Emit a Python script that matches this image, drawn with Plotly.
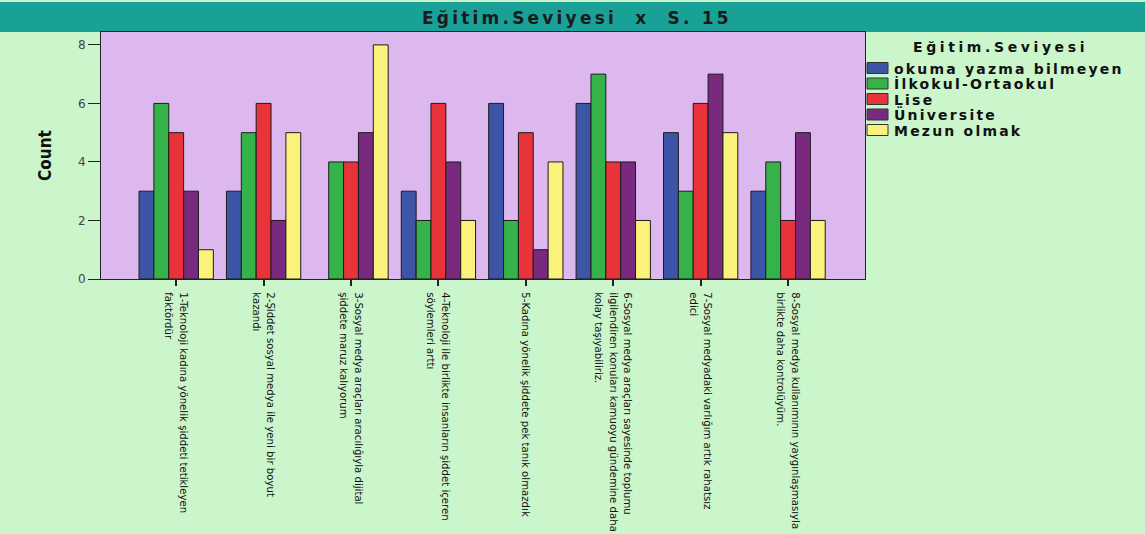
import plotly.graph_objects as go

categories = [
    "1-Teknoloji kadına yönelik şiddeti tetikleyen<br>faktördür",
    "2-Şiddet sosyal medya ile yeni bir boyut<br>kazandı",
    "3-Sosyal medya araçları aracılığıyla dijital<br>şiddete maruz kalıyorum",
    "4-Teknoloji ile birlikte insanların şiddet içeren<br>söylemleri arttı",
    "5-Kadına yönelik şiddete pek tanık olmazdık",
    "6-Sosyal medya araçları sayesinde toplumu<br>ilgilendiren konuları kamuoyu gündemine daha<br>kolay taşıyabiliriz.",
    "7-Sosyal medyadaki varlığım artık rahatsız<br>edici",
    "8-Sosyal medya kullanımının yaygınlaşmasıyla<br>birlikte daha kontrolüyüm.",
]

series_names = ["okuma yazma bilmeyen", "İlkokul-Ortaokul", "Lise", "Üniversite", "Mezun olmak"]
okuma = [3, 3, None, 3, 6, 6, 5, 3]
ilkokul = [6, 5, 4, 2, 2, 7, 3, 4]
lise = [5, 6, 4, 6, 5, 4, 6, 2]
universite = [3, 2, 5, 4, 1, 4, 7, 5]
mezun = [1, 5, 8, 2, 4, 2, 5, 2]
series_values = [okuma, ilkokul, lise, universite, mezun]
colors = ["#3d55a6", "#35b24a", "#e8333a", "#7a2a7e", "#fbf27c"]
legend_title = "Eğitim.Seviyesi"
chart_title = "Eğitim.Seviyesi\u00a0\u00a0x\u00a0\u00a0S.\u00a015"

W, H = 1145, 534
ML, MR, MT, MB = 101, 280, 32, 255
PW, PH = W - ML - MR, H - MT - MB


def px_x(x):
    return (x - ML) / PW


def px_y(y):
    return 1 - (y - MT) / PH


fig = go.Figure()
for name, vals, col in zip(series_names, series_values, colors):
    fig.add_trace(go.Bar(
        x=categories, y=vals, name=name, showlegend=False,
        marker=dict(color=col, line=dict(color="#1b1b1b", width=1)),
    ))

wide = "DejaVu Sans, Verdana, sans-serif"
shapes = [
    dict(type="rect", xref="paper", yref="paper",
         x0=px_x(0), x1=px_x(W), y0=px_y(32), y1=px_y(2),
         fillcolor="#19a198", line=dict(width=0), layer="below"),
]
annotations = [
    dict(text=f'<span style="letter-spacing:3.2px">{chart_title}</span>',
         xref="paper", yref="paper", x=px_x(W / 2 + 4), y=px_y(18),
         xanchor="center", yanchor="middle", showarrow=False,
         font=dict(family=wide, size=17, color="#1a1a1a", weight="bold")),
    dict(text=f'<span style="letter-spacing:3.6px">{legend_title}</span>',
         xref="paper", yref="paper", x=px_x(1000), y=px_y(47),
         xanchor="center", yanchor="middle", showarrow=False,
         font=dict(family=wide, size=14, color="#111111", weight="bold")),
]
row0, row_step = 68, 15.5
for i, (name, col) in enumerate(zip(series_names, colors)):
    cy = row0 + i * row_step
    shapes.append(dict(type="rect", xref="paper", yref="paper",
                       x0=px_x(867), x1=px_x(888), y0=px_y(cy + 5.5), y1=px_y(cy - 5.5),
                       fillcolor=col, line=dict(color="#333333", width=1)))
    annotations.append(dict(text=f'<span style="letter-spacing:2.2px">{name}</span>',
                            xref="paper", yref="paper", x=px_x(892), y=px_y(cy + 0.5),
                            xanchor="left", yanchor="middle", showarrow=False,
                            font=dict(family=wide, size=14, color="#111111", weight="bold")))

fig.update_layout(
    width=W, height=H,
    margin=dict(l=ML, r=MR, t=MT, b=MB),
    paper_bgcolor="#cbf5cb",
    plot_bgcolor="#dcb8ef",
    barmode="group",
    bargap=0.15,
    bargroupgap=0,
    font=dict(family="DejaVu Sans Condensed, DejaVu Sans", color="#222222"),
    showlegend=False,
    annotations=annotations,
    shapes=shapes,
)

fig.update_xaxes(
    type="category",
    range=[-0.86, 7.88],
    automargin=False,
    tickangle=90,
    ticks="outside", ticklen=6, tickcolor="#222222", tickwidth=1.5,
    ticklabelstandoff=4,
    showline=True, linecolor="#222222", linewidth=1, mirror=True,
    tickfont=dict(family="DejaVu Sans Condensed, DejaVu Sans", size=11.3, color="#111111"),
    showgrid=False,
)
fig.update_yaxes(
    range=[0, 8.44],
    automargin=False,
    tickvals=[0, 2, 4, 6, 8],
    ticks="outside", ticklen=12, tickcolor="#222222",
    showline=True, linecolor="#222222", linewidth=1, mirror=True,
    showgrid=False, zeroline=False,
    tickfont=dict(family=wide, size=12, color="#444444"),
    title=dict(text="<b>Count</b>", standoff=22,
               font=dict(family="DejaVu Sans Condensed, DejaVu Sans", size=17, color="#111111")),
)

fig.write_html("out.html", config={"displayModeBar": False},
               post_script="document.body.style.margin='0';")
